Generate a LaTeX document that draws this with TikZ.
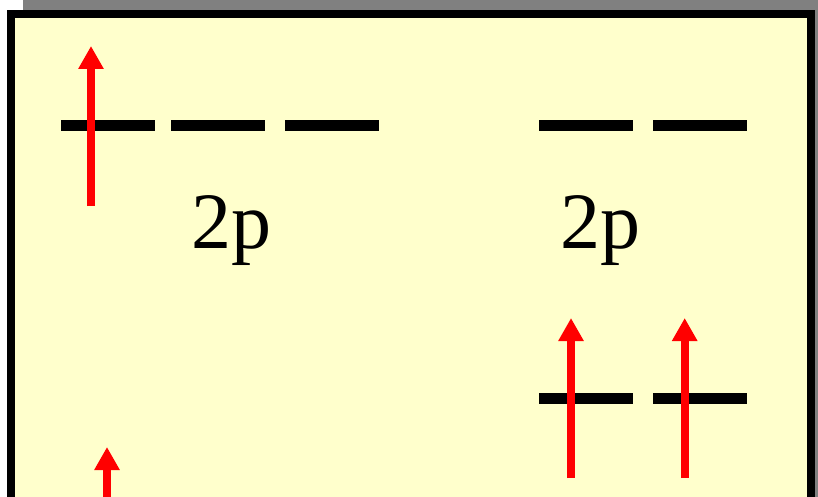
\documentclass[tikz,border=0pt]{standalone}
\usepackage{fontspec}
\setmainfont{Liberation Serif}
\usetikzlibrary{positioning,arrows.meta}
\definecolor{slidebg}{HTML}{FFFFCC}
\definecolor{shadowgray}{HTML}{808080}
\definecolor{spinred}{HTML}{FF0000}

\begin{document}
\begin{tikzpicture}[
    x=1pt, y=-1pt,
    orb/.style={fill=black, minimum width=94pt, minimum height=11pt, inner sep=0pt, outer sep=0pt},
    spin/.style={-{Triangle[length=23pt,width=24pt]}, line width=7.7pt, draw=spinred},
    lbl/.style={font=\fontsize{80}{92}\selectfont, inner sep=0pt, anchor=base}
]
    \clip (0,0) rectangle (818,497);

    % Slide frame with shadow
    \fill[shadowgray] (23,-10) rectangle (840,530);
    \draw[line width=8pt, fill=slidebg] (10.5,14) rectangle (811,540);

    % Left 2p orbitals
    \node[orb] (lp1) at (108,126) {};
    \node[orb] (lp2) at (218,126) {};
    \node[orb] (lp3) at (332,126) {};
    \node[lbl] (lplabel) at (231.5,248) {2p};

    % Right 2p orbitals
    \node[orb] (rp1) at (586,126) {};
    \node[orb] (rp2) at (700,126) {};
    \node[lbl] (rplabel) at (600.5,248) {2p};

    % Right lower orbitals
    \node[orb] (rs1) at (586,398) {};
    \node[orb] (rs2) at (700,398) {};

    % Spins
    \coordinate (lpup) at (91,46);
    \coordinate (lpdn) at (91,206);
    \draw[spin] (lpdn) -- (lpup);
    \coordinate (rs1up) at (571,318);
    \coordinate (rs1dn) at (571,478);
    \draw[spin] (rs1dn) -- (rs1up);
    \coordinate (rs2up) at (684.7,318);
    \coordinate (rs2dn) at (684.7,478);
    \draw[spin] (rs2dn) -- (rs2up);
    \coordinate (lowup) at (107,447);
    \coordinate (lowdn) at (107,560);
    \draw[spin] (lowdn) -- (lowup);
\end{tikzpicture}
\end{document}
